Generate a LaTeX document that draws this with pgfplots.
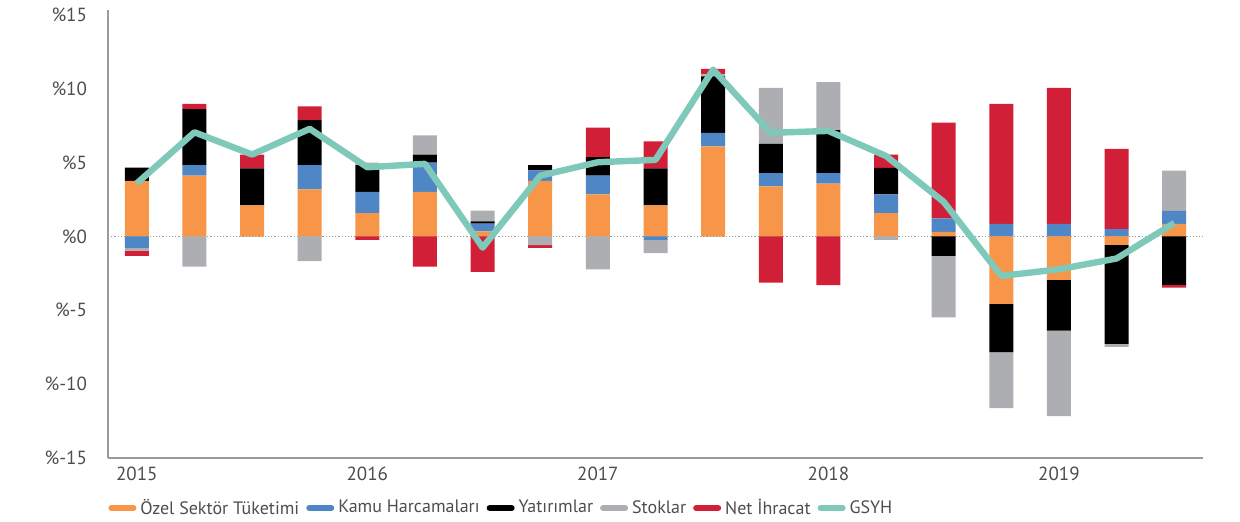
\documentclass[border=0pt]{standalone}
\usepackage{pgfplots}
\pgfplotsset{compat=1.18}
\usepackage{pgfplotstable}
\usepackage{fontspec}
\setmainfont{PT Sans}
\definecolor{cOrange}{HTML}{F79548}
\definecolor{cBlue}{HTML}{4F86C6}
\definecolor{cBlack}{HTML}{000000}
\definecolor{cGray}{HTML}{ADAEB1}
\definecolor{cRed}{HTML}{D11F38}
\definecolor{cTeal}{HTML}{7FC9BA}
\definecolor{cText}{HTML}{4D4D4D}
\definecolor{cAxis}{HTML}{9A9A9A}

% positive parts
\pgfplotstableread{
x  O     B     K     G     R
0  3.76  0     0.90  0     0
1  4.12  0.72  3.78  0     0.37
2  2.10  0     2.52  0     0.93
3  3.19  1.65  3.04  0     0.93
4  1.59  1.44  1.81  0.16  0
5  3.03  1.97  0.55  1.29  0
6  0.34  0.54  0.14  0.73  0
7  3.76  0.72  0.36  0     0
8  2.85  1.27  1.25  0     2.01
9  2.10  0     2.52  0     1.83
10 6.11  0.91  3.82  0.14  0.38
11 3.39  0.91  1.97  3.80  0
12 3.58  0.72  2.90  3.25  0
13 1.59  1.26  1.79  0     0.91
14 0.32  0.90  0     0     6.50
15 0     0.86  0     0     8.13
16 0     0.86  0     0     9.21
17 0     0.50  0     0     5.43
18 0.86  0.88  0     2.72  0
}\postab

% negative parts
\pgfplotstableread{
x  O      B      K      G      R
0  0      -0.77  0      -0.18  -0.36
1  0      0      0      -2.04  0
2  0      0      0      0      0
3  0      0      0      -1.67  0
4  0      0      0      0      -0.23
5  0      0      0      0      -2.04
6  0      0      0      0      -2.40
7  0      0      0      -0.59  -0.18
8  0      0      0      -2.22  0
9  0      -0.23  0      -0.90  0
10 0      0      0      0      0
11 0      0      0      0      -3.12
12 0      0      0      0      -3.30
13 0      0      0      -0.23  0
14 0      0      -1.31  -4.16  0
15 -4.57  0      -3.26  -3.80  0
16 -2.94  0      -3.44  -5.79  0
17 -0.56  0      -6.72  -0.19  0
18 0      0      -3.28  0      -0.18
}\negtab

% GDP growth
\pgfplotstableread{
x  y
0  3.60
1  7.06
2  5.55
3  7.29
4  4.69
5  4.92
6  -0.75
7  4.12
8  5.03
9  5.19
10 11.30
11 7.02
12 7.15
13 5.45
14 2.35
15 -2.67
16 -2.22
17 -1.49
18 0.91
}\gdptab

\pgfplotsset{
  common/.style={
    scale only axis,
    width=547.5pt, height=224pt,
    xmin=-0.5, xmax=18.5,
    ymin=-15, ymax=15.34,
    clip=false,
  },
  bars/.style={ybar stacked, bar width=12pt},
}

\begin{document}
\begin{tikzpicture}[font=\fontsize{9.5}{11}\selectfont]
\begin{axis}[common, bars, name=main,
  axis lines*=left,
  axis line style={cAxis, line width=0.9pt},
  xtick={0,4,8,12,16},
  xticklabels={2015,2016,2017,2018,2019},
  ytick={-15,-10,-5,0,5,10,15},
  yticklabels={\%-15,\%-10,\%-5,\%0,\%5,\%10,\%15},
  major tick length=0pt,
  tick label style={text=cText},
  yticklabel style={xshift=-7pt},
  xticklabel style={yshift=-1pt},
]
\draw[cAxis, densely dotted, line width=0.6pt] (axis cs:-0.5,0) -- (axis cs:18.5,0);
\addplot[fill=cOrange, draw=none] table[x=x, y=O] {\postab};
\addplot[fill=cBlue, draw=none] table[x=x, y=B] {\postab};
\addplot[fill=cBlack, draw=none] table[x=x, y=K] {\postab};
\addplot[fill=cGray, draw=none] table[x=x, y=G] {\postab};
\addplot[fill=cRed, draw=none] table[x=x, y=R] {\postab};
\end{axis}
\begin{axis}[common, bars, hide axis]
\addplot[fill=cOrange, draw=none] table[x=x, y=O] {\negtab};
\addplot[fill=cBlue, draw=none] table[x=x, y=B] {\negtab};
\addplot[fill=cBlack, draw=none] table[x=x, y=K] {\negtab};
\addplot[fill=cGray, draw=none] table[x=x, y=G] {\negtab};
\addplot[fill=cRed, draw=none] table[x=x, y=R] {\negtab};
\end{axis}
\begin{axis}[common, hide axis,
  legend style={at={(0,-0.112)}, anchor=west, legend columns=-1, draw=none, fill=none,
    text=cText, font=\fontsize{9}{11}\selectfont, inner sep=0pt,
    /tikz/every even column/.append style={column sep=1.5pt}},
  legend image code/.code={\draw[#1, line width=3pt, line cap=round] (1.5pt,0pt) -- (12.5pt,0pt);},
]
\addplot[cTeal, line width=3.2pt, line join=round, mark=none, forget plot] table[x=x, y=y] {\gdptab};
\addlegendimage{cOrange}\addlegendentry{Özel Sektör Tüketimi}
\addlegendimage{cBlue}\addlegendentry{Kamu Harcamaları}
\addlegendimage{cBlack}\addlegendentry{Yatırımlar}
\addlegendimage{cGray}\addlegendentry{Stoklar}
\addlegendimage{cRed}\addlegendentry{Net İhracat}
\addlegendimage{cTeal}\addlegendentry{GSYH}
\end{axis}
\path ([shift={(-54pt,-31.5pt)}]main.south west) rectangle ([shift={(18.5pt,5pt)}]main.north east);
\end{tikzpicture}
\end{document}
